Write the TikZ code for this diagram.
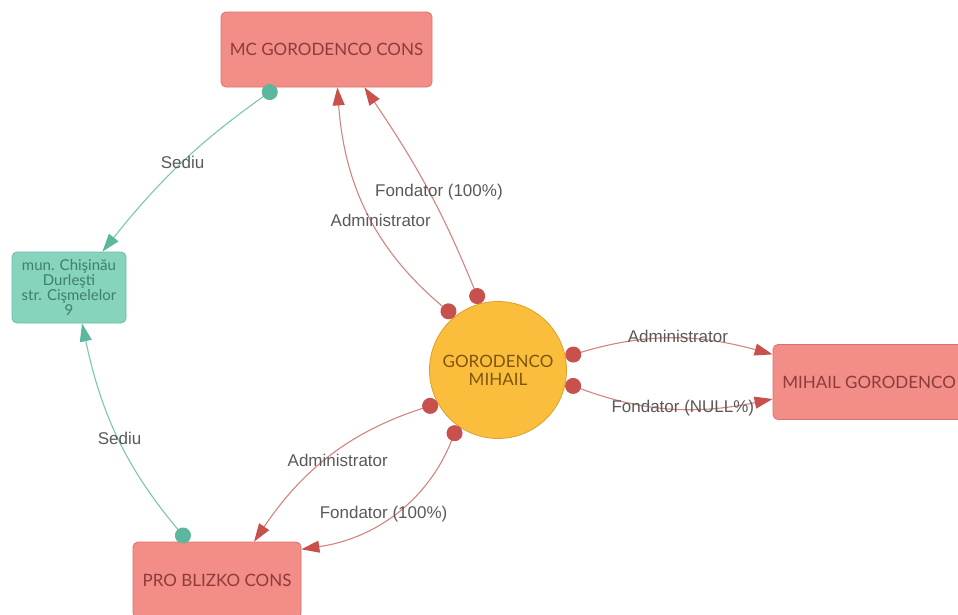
\documentclass[tikz,border=0pt]{standalone}
\usepackage{fontspec}
\usetikzlibrary{arrows.meta}
\newfontfamily\nodefont{Lato}
\newfontfamily\edgefont{Liberation Sans}

\definecolor{firmfill}{HTML}{F28D88}
\definecolor{firmline}{HTML}{D9716C}
\definecolor{firmtext}{HTML}{8E3B3B}
\definecolor{persfill}{HTML}{FBBD3C}
\definecolor{persline}{HTML}{DDA02A}
\definecolor{perstext}{HTML}{7E560F}
\definecolor{seatfill}{HTML}{86D3BE}
\definecolor{seatline}{HTML}{6CBBA5}
\definecolor{seattext}{HTML}{3E7F6D}
\definecolor{relline}{HTML}{D4837F}
\definecolor{reltip}{HTML}{C8504D}
\definecolor{seatedge}{HTML}{7CC6B1}
\definecolor{seattip}{HTML}{5DB79E}
\definecolor{lbltext}{HTML}{595959}

\tikzset{
  firm/.style={rectangle, rounded corners=5pt, draw=firmline, line width=0.8pt, fill=firmfill, text=firmtext,
    font=\nodefont\fontsize{17}{20}\selectfont, minimum height=75pt, inner sep=0pt},
  person/.style={circle, draw=persline, line width=0.8pt, fill=persfill, text=perstext, align=center,
    font=\nodefont\fontsize{17}{18}\selectfont, minimum size=137pt, inner sep=0pt},
  seat/.style={rectangle, rounded corners=5pt, draw=seatline, line width=0.8pt, fill=seatfill, text=seattext, align=center,
    font=\nodefont\fontsize{15}{15.3}\selectfont, minimum width=114pt, minimum height=71pt, inner sep=0pt},
  rel/.style={draw=relline, line width=1.1pt,
    arrows={Circle[length=16pt,color=reltip]-Triangle[length=18pt,width=12pt,color=reltip]}},
  seatrel/.style={draw=seatedge, line width=1.1pt,
    arrows={Circle[length=16pt,color=seattip]-Triangle[length=18pt,width=12pt,color=seattip]}},
  lbl/.style={font=\edgefont\fontsize{17}{20}\selectfont, text=lbltext, inner sep=0pt},
}

\begin{document}
\begin{tikzpicture}[x=1pt, y=-1pt]
    \useasboundingbox (0,0) rectangle (958,614);

    \node[firm, minimum width=211pt] (mc) at (326.5,49.5) {MC GORODENCO CONS};
    \node[seat] (sediu) at (69,287.5) {mun. Chişinău\\Durleşti\\str. Cişmelelor\\9};
    \node[person] (gm) at (498,370) {GORODENCO\\MIHAIL};
    \node[firm, minimum width=192pt] (mg) at (869,382) {MIHAIL GORODENCO};
    \node[firm, minimum width=168pt, minimum height=76pt] (pro) at (217,580) {PRO BLIZKO CONS};

    % seat of MC
    \draw[seatrel] (mc.-143) to[bend right=8] node[lbl] {Sediu} (sediu.47);
    % seat of PRO
    \draw[seatrel] (pro.127) to[bend left=14] node[lbl, yshift=2pt] {Sediu} (sediu.-70);
    % person to MC
    \draw[rel] (gm.129) to[bend left=23] node[lbl, xshift=11pt, yshift=-5pt] {Administrator} (mc.-74);
    \draw[rel] (gm.105) to[bend right=6] node[lbl, xshift=10pt] {Fondator (100\%)} (mc.-45);
    % person to MIHAIL GORODENCO
    \draw[rel] (gm.11) to[bend left=16] node[lbl, xshift=9pt, yshift=2pt] {Administrator} (mg.164);
    \draw[rel] (gm.-11) to[bend right=16] node[lbl, xshift=15pt] {Fondator (NULL\%)} (mg.190);
    % person to PRO
    \draw[rel] (gm.-151) to[bend right=19] node[lbl, xshift=5pt, yshift=-5pt] {Administrator} (pro.46);
    \draw[rel] (gm.-126) to[bend left=30] node[lbl, xshift=-14pt, yshift=-4pt] {Fondator (100\%)} (pro.20);
\end{tikzpicture}
\end{document}
